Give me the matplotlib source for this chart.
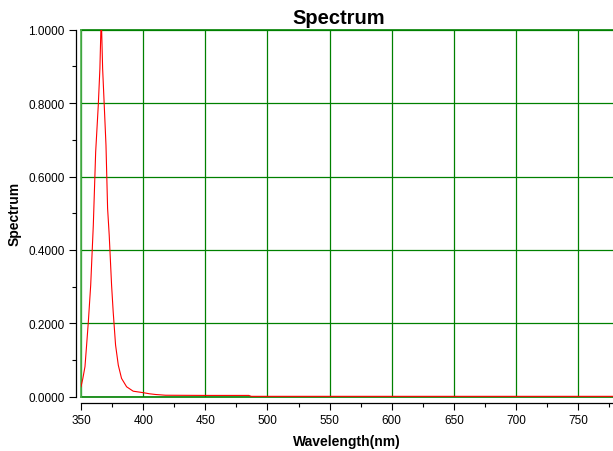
import matplotlib
matplotlib.use("Agg")
import matplotlib.pyplot as plt
from matplotlib.ticker import MultipleLocator, FormatStrFormatter

# values
wavelength = [350.0, 351.5, 353.2, 354.5, 355.9, 357.8, 359.9, 361.8, 363.9, 365.2,
              366.0, 366.6, 367.4, 368.7, 370.1, 371.4, 372.7, 374.6, 375.9, 377.8,
              380.0, 382.6, 386.7, 392.0, 400.0, 405.0, 410.0, 418.0, 450.0, 485.0,
              487.0, 500.0, 600.0, 700.0, 778.0]
spectrum = [0.027, 0.050, 0.082, 0.140, 0.204, 0.304, 0.467, 0.667, 0.794, 0.894,
            1.000, 1.000, 0.894, 0.794, 0.685, 0.513, 0.440, 0.304, 0.231, 0.141,
            0.086, 0.050, 0.027, 0.015, 0.011, 0.008, 0.006, 0.004, 0.0035, 0.0035,
            0.001, 0.001, 0.001, 0.001, 0.001]

FONT = "Liberation Sans"
GREEN = "#008000"

fig = plt.figure(figsize=(6.13, 4.52), dpi=100)
ax = fig.add_axes([81 / 613, 54.3 / 452, 532 / 613, 367 / 452])

ax.plot(wavelength, spectrum, color="#ff0000", lw=0.8, zorder=3)

ax.set_xlim(350, 778)
ax.set_ylim(0, 1.0)

ax.xaxis.set_major_locator(MultipleLocator(50))
ax.xaxis.set_minor_locator(MultipleLocator(25))
ax.yaxis.set_major_locator(MultipleLocator(0.2))
ax.yaxis.set_minor_locator(MultipleLocator(0.1))
ax.yaxis.set_major_formatter(FormatStrFormatter("%.4f"))

ax.grid(which="major", color=GREEN, lw=0.9)
# green frame at the limits
ax.axhline(0, color=GREEN, lw=1.2, clip_on=False, zorder=2)
ax.axhline(1.0, color=GREEN, lw=1.2, clip_on=False, zorder=2)
ax.axvline(350, color="#4caf4c", lw=1.2, clip_on=False, zorder=2)

for s in ("top", "right"):
    ax.spines[s].set_visible(False)
ax.spines["left"].set_position(("outward", 3.6))
ax.spines["bottom"].set_position(("outward", 4.5))
ax.spines["left"].set_linewidth(0.9)
ax.spines["bottom"].set_linewidth(0.9)

ax.tick_params(which="major", length=5, width=0.8, pad=3, labelsize=8.5)
ax.tick_params(which="minor", length=3, width=0.8)
for lab in ax.get_xticklabels() + ax.get_yticklabels():
    lab.set_fontfamily(FONT)

ax.set_title("Spectrum", fontsize=14.5, fontweight="bold", family=FONT,
             pad=5, x=0.485)
ax.set_xlabel("Wavelength(nm)", fontsize=10, fontweight="bold", family=FONT,
              labelpad=6)
ax.set_ylabel("Spectrum", fontsize=10, fontweight="bold", family=FONT,
              labelpad=5)

fig.savefig("out.png", dpi=100)
